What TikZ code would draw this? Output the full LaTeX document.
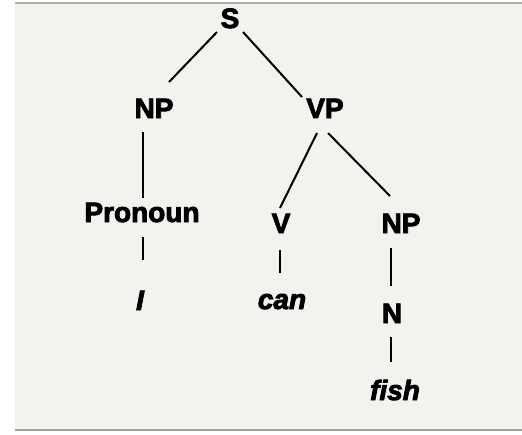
\documentclass[tikz,border=0pt]{standalone}
\usepackage{fontspec}
\setmainfont{Liberation Sans}
\newfontfamily\heavyfont{Liberation Sans}[UprightFont={* Bold},UprightFeatures={FakeBold=3},ItalicFont={* Bold Italic},ItalicFeatures={FakeBold=3}]
\usetikzlibrary{calc}
\definecolor{bgc}{HTML}{F2F2EF}
\definecolor{topc}{HTML}{A8B59E}
\definecolor{botc}{HTML}{9E9E9E}
\begin{document}
\begin{tikzpicture}[x=1pt,y=-1pt,
  lbl/.style={anchor=base,font=\fontsize{28}{30}\heavyfont,text height=20pt,text depth=0pt,inner sep=0pt},
  word/.style={lbl,font=\fontsize{28}{30}\heavyfont\itshape},
  edge/.style={line width=2pt,black}]
\useasboundingbox (0,0) rectangle (522,434);
\fill[white] (0,0) rectangle (522,434);
\fill[bgc] (15,3) rectangle (522,430);
\draw[topc,line width=2pt] (15,3) -- (522,3);
\draw[botc,line width=2pt] (15,430) -- (522,430);
\node[lbl] (S) at (230,28) {S};
\node[lbl] (NP1) at (154,118) {NP};
\node[lbl] (VP) at (325,118) {VP};
\node[lbl] (Pro) at (142,222) {Pronoun};
\node[word] (I) at (140,310) {I};
\node[lbl] (V) at (281,233) {V};
\node[word] (can) at (282,309) {can};
\node[lbl] (NP2) at (401,233) {NP};
\node[lbl] (N) at (392,323) {N};
\node[word] (fish) at (395,400) {fish};
\draw[edge] ($(S)+(-13,14)$) -- ($(NP1)+(15,-26)$);
\draw[edge] ($(S)+(13,14)$) -- ($(VP)+(-23,-11)$);
\draw[edge] ($(NP1)+(-11,24)$) -- ($(Pro)+(1,-14)$);
\draw[edge] ($(Pro)+(1,25)$) -- ($(I)+(3,-40)$);
\draw[edge] ($(VP)+(-8,25)$) -- ($(V)+(-1,-15)$);
\draw[edge] ($(VP)+(3,25)$) -- ($(NP2)+(-11,-27)$);
\draw[edge] ($(V)+(-1,27)$) -- ($(can)+(-2,-26)$);
\draw[edge] ($(NP2)+(-10,25)$) -- ($(N)+(-1,-27)$);
\draw[edge] ($(N)+(-1,24)$) -- ($(fish)+(-4,-28)$);
\end{tikzpicture}
\end{document}
